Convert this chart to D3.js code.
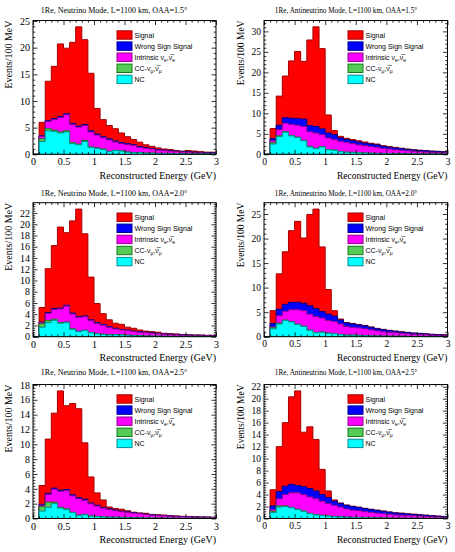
<!DOCTYPE html>
<html><head><meta charset="utf-8">
<script src="https://cdn.jsdelivr.net/npm/d3@7"></script>
<style>body{margin:0;background:#fff}</style>
</head><body><svg id="c" width="455" height="552" xmlns="http://www.w3.org/2000/svg"></svg>
<script>
// ---------- DATA ----------
const binLowEdges = [0,0.1,0.2,0.3,0.4,0.5,0.6,0.7,0.8,0.9,1.0,1.1,1.2,1.3,1.4,1.5,1.6,1.7,1.8,1.9,2.0,2.1,2.2,2.3,2.4,2.5,2.6,2.7,2.8,2.9];
const xMax = 3;
const xMajorTicks = [0,0.5,1,1.5,2,2.5,3];

const titles = [
  "1Re, Neutrino Mode, L=1100 km, OAA=1.5°",
  "1Re, Antineutrino Mode, L=1100 km, OAA=1.5°",
  "1Re, Neutrino Mode, L=1100 km, OAA=2.0°",
  "1Re, Antineutrino Mode, L=1100 km, OAA=2.0°",
  "1Re, Neutrino Mode, L=1100 km, OAA=2.5°",
  "1Re, Antineutrino Mode, L=1100 km, OAA=2.5°"
];
const yMajorSteps = [5,5,2,5,2,2];
const xAxisTitle = "Reconstructed Energy (GeV)";
const yAxisTitle = "Events/100 MeV";

// Neutrino mode, OAA=1.5
const nu15Signal    = [0,2.5,7.4,9.8,13.6,12.3,15.2,18.6,15.9,10.8,4.8,3.2,2.5,2.3,1.8,1.3,1.0,0.8,0.5,0.4,0.3,0.2,0.2,0.1,0.1,0.2,0.2,0.15,0.1,0.1];
const nu15WrongSign = [0,0.1,0.15,0.2,0.2,0.2,0.2,0.2,0.2,0.2,0.2,0.2,0.2,0.2,0.2,0.15,0.15,0.15,0.15,0.1,0.1,0.1,0.1,0.08,0.07,0.08,0.07,0.06,0.06,0.06];
const nu15Intrinsic = [0,0.5,1.35,2.0,2.7,3.0,3.4,3.2,2.8,2.8,2.4,2.1,2.15,1.55,1.35,1.4,1.3,1.0,0.9,0.77,0.63,0.58,0.48,0.4,0.32,0.35,0.27,0.22,0.18,0.18];
const nu15CC        = [0,0.5,0.4,0.2,0.2,0.2,0.2,0.1,0.2,0.1,0.1,0.1,0.05,0.05,0.05,0.05,0.03,0.03,0.03,0.03,0.02,0.02,0.02,0.02,0.02,0.02,0.02,0.02,0.01,0.01];
const nu15NC        = [0,2.4,4.4,4.3,4.0,4.2,2.0,1.8,2.4,1.3,1.1,0.9,0.5,0.7,0.6,0.4,0.3,0.3,0.2,0.2,0.15,0.1,0.1,0.1,0.1,0.05,0.05,0.05,0.05,0.05];

// Antineutrino mode, OAA=1.5
const anu15Signal    = [0,2.5,7.1,10.2,14.0,16.4,14.1,20.9,24.3,19.6,4.4,1.0,0.4,0.3,0.3,0.3,0.3,0.2,0.2,0.15,0.15,0.15,0.1,0.1,0.1,0.05,0.05,0.05,0.05,0.05];
const anu15WrongSign = [0,0.5,1.1,1.3,1.5,1.6,1.8,1.5,1.6,1.4,1.2,1.2,0.8,0.7,0.7,0.7,0.6,0.6,0.6,0.55,0.45,0.45,0.4,0.35,0.3,0.3,0.3,0.25,0.25,0.2];
const anu15Intrinsic = [0,0.5,1.5,2.1,2.7,2.9,3.4,3.64,3.74,2.95,2.85,2.55,2.55,2.37,2.12,1.93,1.78,1.63,1.48,1.23,1.16,0.98,0.88,0.75,0.65,0.57,0.48,0.43,0.38,0.34];
const anu15CC        = [0,0.3,0.2,0.1,0.1,0.1,0.08,0.06,0.06,0.05,0.05,0.04,0.03,0.03,0.03,0.02,0.02,0.02,0.02,0.02,0.02,0.01,0.01,0.01,0.01,0.01,0.01,0.01,0.01,0.01];
const anu15NC        = [0,2.5,4.3,5.4,4.5,4.1,3.3,1.8,1.4,1.8,1.1,1.0,0.6,0.5,0.45,0.35,0.3,0.25,0.2,0.15,0.12,0.1,0.1,0.08,0.08,0.06,0.05,0.05,0.05,0.04];

// Neutrino mode, OAA=2.0
const nu20Signal    = [0,2.6,7.8,11.2,14.4,12.9,16.4,19.1,14.6,7.6,3.4,1.9,1.2,0.9,0.9,0.5,0.5,0.3,0.2,0.2,0.2,0.1,0.1,0.1,0.05,0.05,0.03,0.05,0.03,0.05];
const nu20WrongSign = [0,0.1,0.15,0.15,0.15,0.15,0.15,0.15,0.15,0.15,0.15,0.15,0.12,0.12,0.1,0.1,0.1,0.1,0.1,0.08,0.08,0.07,0.07,0.06,0.06,0.05,0.05,0.05,0.04,0.04];
const nu20Intrinsic = [0,0.2,1.25,1.75,2.45,2.85,2.65,2.5,2.4,2.1,1.8,1.6,1.35,1.0,0.87,0.83,0.68,0.63,0.58,0.52,0.42,0.36,0.31,0.28,0.23,0.19,0.17,0.15,0.13,0.11];
const nu20CC        = [0,0.6,0.4,0.2,0.1,0.1,0.1,0.05,0.05,0.05,0.05,0.05,0.03,0.03,0.03,0.02,0.02,0.02,0.02,0.02,0.02,0.01,0.01,0.01,0.01,0.01,0.01,0.01,0.01,0.01];
const nu20NC        = [0,1.7,2.5,2.9,2.4,2.5,1.3,0.9,1.1,0.7,0.5,0.4,0.3,0.35,0.3,0.25,0.2,0.15,0.1,0.08,0.08,0.06,0.06,0.05,0.05,0.05,0.04,0.04,0.04,0.04];

// Antineutrino mode, OAA=2.0
const anu20Signal    = [0,2.6,7.2,10.7,14.6,16.5,13.3,18.6,20.3,13.2,5.0,1.1,0.2,0.1,0.1,0.1,0.1,0.1,0.1,0.1,0.05,0.05,0.05,0.05,0.03,0.04,0.03,0.02,0.02,0.02];
const anu20WrongSign = [0,0.7,1.3,1.4,1.5,1.5,1.5,1.7,1.6,1.3,1.3,1.1,0.8,0.7,0.7,0.6,0.6,0.5,0.4,0.4,0.35,0.3,0.25,0.25,0.22,0.21,0.17,0.15,0.13,0.12];
const anu20Intrinsic = [0,0.2,1.55,1.8,2.45,2.95,3.15,3.25,3.25,2.85,2.56,2.46,2.17,1.77,1.57,1.52,1.38,1.23,1.06,0.88,0.8,0.7,0.61,0.52,0.43,0.38,0.33,0.27,0.24,0.2];
const anu20CC        = [0,0.2,0.15,0.1,0.05,0.05,0.05,0.05,0.05,0.05,0.04,0.04,0.03,0.03,0.03,0.03,0.02,0.02,0.02,0.02,0.02,0.02,0.02,0.01,0.01,0.01,0.01,0.01,0.01,0.01];
const anu20NC        = [0,1.6,2.6,3.3,3.0,2.5,2.1,1.3,0.8,0.9,0.7,0.6,0.4,0.3,0.3,0.25,0.2,0.15,0.12,0.1,0.08,0.08,0.07,0.06,0.05,0.05,0.05,0.04,0.04,0.04];

// Neutrino mode, OAA=2.5
const nu25Signal    = [0,2.55,7.3,10.1,13.4,11.3,12.3,12.0,7.6,3.5,1.65,1.0,0.25,0.2,0.25,0.15,0.05,0.05,0.1,0.05,0.05,0.05,0.05,0.03,0.01,0.02,0.01,0.01,0.01,0.01];
const nu25WrongSign = [0,0.1,0.15,0.15,0.15,0.15,0.15,0.15,0.15,0.12,0.12,0.1,0.1,0.1,0.08,0.08,0.07,0.06,0.06,0.05,0.05,0.04,0.04,0.04,0.03,0.03,0.03,0.02,0.02,0.02];
const nu25Intrinsic = [0,0.2,1.05,1.75,2.15,2.45,2.2,2.2,1.9,1.63,1.39,1.16,1.02,0.87,0.77,0.69,0.63,0.55,0.46,0.38,0.35,0.32,0.27,0.23,0.21,0.19,0.15,0.14,0.13,0.1];
const nu25CC        = [0,0.6,0.7,0.2,0.1,0.1,0.05,0.05,0.05,0.05,0.04,0.04,0.03,0.03,0.03,0.03,0.02,0.02,0.02,0.02,0.01,0.01,0.01,0.01,0.01,0.01,0.01,0.01,0.01,0.01];
const nu25NC        = [0,1.0,1.5,2.0,1.4,1.2,0.8,0.4,0.5,0.3,0.25,0.2,0.15,0.15,0.12,0.1,0.08,0.07,0.06,0.05,0.04,0.04,0.03,0.03,0.03,0.03,0.02,0.02,0.02,0.02];

// Antineutrino mode, OAA=2.5
const anu25Signal    = [0,2.7,7.5,10.6,14.6,15.8,9.1,10.3,8.6,4.2,1.1,0.2,0.1,0.05,0.05,0.05,0.05,0.05,0.05,0.05,0.05,0.03,0.05,0.05,0.04,0.02,0.03,0.02,0.02,0.02];
const anu25WrongSign = [0,0.6,1.2,1.4,1.4,1.2,1.3,1.4,1.3,1.1,1.0,0.7,0.6,0.6,0.6,0.55,0.5,0.5,0.45,0.4,0.35,0.32,0.3,0.25,0.23,0.2,0.18,0.15,0.13,0.11];
const anu25Intrinsic = [0,0.3,1.2,1.9,2.45,2.75,2.75,2.75,2.65,2.36,2.06,1.86,1.62,1.37,1.2,1.12,1.0,0.88,0.8,0.72,0.63,0.54,0.5,0.46,0.41,0.36,0.32,0.27,0.22,0.19];
const anu25CC        = [0,0.2,0.2,0.1,0.05,0.05,0.05,0.05,0.05,0.04,0.04,0.04,0.03,0.03,0.03,0.03,0.03,0.02,0.02,0.02,0.02,0.02,0.01,0.01,0.01,0.01,0.01,0.01,0.01,0.01];
const anu25NC        = [0,1.0,1.9,2.0,1.8,1.5,1.2,0.8,0.6,0.5,0.4,0.3,0.25,0.2,0.17,0.15,0.12,0.1,0.08,0.06,0.05,0.04,0.04,0.03,0.03,0.03,0.02,0.02,0.02,0.02];

const panelData = [
  {signal:nu15Signal, wrongSign:nu15WrongSign, intrinsic:nu15Intrinsic, cc:nu15CC, nc:nu15NC},
  {signal:anu15Signal, wrongSign:anu15WrongSign, intrinsic:anu15Intrinsic, cc:anu15CC, nc:anu15NC},
  {signal:nu20Signal, wrongSign:nu20WrongSign, intrinsic:nu20Intrinsic, cc:nu20CC, nc:nu20NC},
  {signal:anu20Signal, wrongSign:anu20WrongSign, intrinsic:anu20Intrinsic, cc:anu20CC, nc:anu20NC},
  {signal:nu25Signal, wrongSign:nu25WrongSign, intrinsic:nu25Intrinsic, cc:nu25CC, nc:nu25NC},
  {signal:anu25Signal, wrongSign:anu25WrongSign, intrinsic:anu25Intrinsic, cc:anu25CC, nc:anu25NC}
];

// stacking order bottom -> top
const stackKeys = ["nc","cc","intrinsic","wrongSign","signal"];
// legend order top -> bottom
const legendKeys = ["signal","wrongSign","intrinsic","cc","nc"];

// ---------- STYLE ----------
const fillColors = {signal:"#ff0000", wrongSign:"#0000ff", intrinsic:"#ff00ff", cc:"#55cc55", nc:"#00ffff"};
const lineColors = {signal:"#a00000", wrongSign:"#00008c", intrinsic:"#8c008c", cc:"#1a7a1a", nc:"#008c8c"};

const colX = [
  {x0:33, x1:216, titleSize:8, axisSize:10, tickSize:10, titleCx:114, yLabX:11.5},
  {x0:264, x1:447.5, titleSize:7.2, axisSize:9.5, tickSize:9.5, titleCx:346, yLabX:243.5}
];
const rowY = [
  {y0:20.5, y1:154.3, titleY:12.5},
  {y0:202.7, y1:336.7, titleY:195.5},
  {y0:384.5, y1:518.5, titleY:374.5}
];

const serif = "Liberation Serif, Times New Roman, serif";
const sans = "Liberation Sans, Arial, Helvetica, sans-serif";

const svg = d3.select("#c");
svg.append("rect").attr("width",455).attr("height",552).attr("fill","#fff");

panelData.forEach((pd, i) => {
  const C = colX[i % 2], R = rowY[Math.floor(i / 2)];
  const g = svg.append("g");
  const x = d3.scaleLinear().domain([0, xMax]).range([C.x0, C.x1]);
  const rows = binLowEdges.map((e, j) => {
    const r = {edge: e};
    stackKeys.forEach(k => r[k] = pd[k][j]);
    return r;
  });
  const stacked = d3.stack().keys(stackKeys)(rows);
  const maxTot = d3.max(stacked[stacked.length - 1], d => d[1]);
  const y = d3.scaleLinear().domain([0, maxTot * 1.05]).range([R.y1, R.y0]);

  const area = d3.area().x(d => x(d[0])).y0(y(0)).y1(d => y(d[1])).curve(d3.curveStepAfter);
  const line = d3.line().x(d => x(d[0])).y(d => y(d[1])).curve(d3.curveStepAfter);

  // draw like ROOT THStack: top cumulative first, then lower ones over it
  for (let k = stacked.length - 1; k >= 0; k--) {
    const layer = stacked[k];
    const key = layer.key;
    const pts = layer.map(d => [d.data.edge, d[1]]);
    pts.push([xMax, layer[layer.length - 1][1]]);
    g.append("path").attr("d", area(pts)).attr("fill", fillColors[key]);
    g.append("path").attr("d", line(pts)).attr("fill", "none")
      .attr("stroke", lineColors[key]).attr("stroke-width", 1);
  }

  // axes
  const yStep = yMajorSteps[i];
  const yMax = maxTot * 1.05;
  const yMajor = d3.range(0, yMax + 1e-9, yStep);
  const yMinor = d3.range(0, yMax + 1e-9, yStep / 5).filter(v => Math.abs(v / yStep - Math.round(v / yStep)) > 1e-6);
  const xMinor = d3.range(0, xMax + 1e-9, 0.1).filter(v => Math.abs(v / 0.5 - Math.round(v / 0.5)) > 1e-6);
  const fmt = d3.format("~g");

  const axes = g.append("g");
  axes.append("g").attr("transform", `translate(0,${R.y1})`)
    .call(d3.axisBottom(x).tickValues(xMajorTicks).tickSize(-4.5).tickPadding(4).tickFormat(fmt));
  axes.append("g").attr("transform", `translate(0,${R.y1})`)
    .call(d3.axisBottom(x).tickValues(xMinor).tickSize(-2.3).tickFormat(""));
  axes.append("g").attr("transform", `translate(0,${R.y0})`)
    .call(d3.axisTop(x).tickValues(xMajorTicks).tickSize(-4.5).tickFormat(""));
  axes.append("g").attr("transform", `translate(0,${R.y0})`)
    .call(d3.axisTop(x).tickValues(xMinor).tickSize(-2.3).tickFormat(""));
  axes.append("g").attr("transform", `translate(${C.x0},0)`)
    .call(d3.axisLeft(y).tickValues(yMajor).tickSize(-4.5).tickPadding(3).tickFormat(fmt));
  axes.append("g").attr("transform", `translate(${C.x0},0)`)
    .call(d3.axisLeft(y).tickValues(yMinor).tickSize(-2.3).tickFormat(""));
  axes.append("g").attr("transform", `translate(${C.x1},0)`)
    .call(d3.axisRight(y).tickValues(yMajor).tickSize(-4.5).tickFormat(""));
  axes.append("g").attr("transform", `translate(${C.x1},0)`)
    .call(d3.axisRight(y).tickValues(yMinor).tickSize(-2.3).tickFormat(""));
  axes.selectAll("g").attr("font-family", serif).attr("font-size", C.tickSize);
  axes.selectAll(".domain").remove();
  axes.selectAll(".tick line").attr("stroke", "#000").attr("stroke-width", 0.8);
  axes.selectAll(".tick text").attr("font-family", serif).attr("font-size", C.tickSize).attr("fill", "#000");

  // frame
  g.append("rect").attr("x", C.x0).attr("y", R.y0).attr("width", C.x1 - C.x0).attr("height", R.y1 - R.y0)
    .attr("fill", "none").attr("stroke", "#000").attr("stroke-width", 1);

  // titles
  g.append("text").attr("x", C.titleCx).attr("y", R.titleY).attr("text-anchor", "middle")
    .attr("font-family", serif).attr("font-size", C.titleSize).text(titles[i]);
  g.append("text").attr("x", C.x1).attr("y", R.y1 + 24.2).attr("text-anchor", "end")
    .attr("font-family", serif).attr("font-size", C.axisSize).text(xAxisTitle);
  g.append("text").attr("transform", `translate(${C.yLabX},${R.y0})rotate(-90)`).attr("text-anchor", "end")
    .attr("font-family", serif).attr("font-size", C.axisSize).text(yAxisTitle);

  // legend
  const lg = g.append("g").attr("font-family", sans).attr("font-size", 7);
  legendKeys.forEach((k, j) => {
    const cy = R.y0 + 14.5 + j * 11.1;
    const bx = C.x0 + 84;
    lg.append("rect").attr("x", bx).attr("y", cy - 4.2).attr("width", 15).attr("height", 8.4)
      .attr("fill", fillColors[k]).attr("stroke", lineColors[k]).attr("stroke-width", 1);
    const t = lg.append("text").attr("x", bx + 17.5).attr("y", cy + 2.5);
    if (k === "signal") t.text("Signal");
    else if (k === "wrongSign") t.text("Wrong Sign Signal");
    else if (k === "nc") t.text("NC");
    else if (k === "intrinsic") {
      t.append("tspan").text("Intrinsic \u03BD");
      t.append("tspan").attr("font-size", 5).attr("dy", 1.8).text("e");
      t.append("tspan").attr("dy", -1.8).text(",\u03BD\u0305");
      t.append("tspan").attr("font-size", 5).attr("dy", 1.8).text("e");
    } else if (k === "cc") {
      t.append("tspan").text("CC-\u03BD");
      t.append("tspan").attr("font-size", 5).attr("dy", 1.8).text("\u03BC");
      t.append("tspan").attr("dy", -1.8).text(",\u03BD\u0305");
      t.append("tspan").attr("font-size", 5).attr("dy", 1.8).text("\u03BC");
    }
  });
});
</script>
</body></html>
